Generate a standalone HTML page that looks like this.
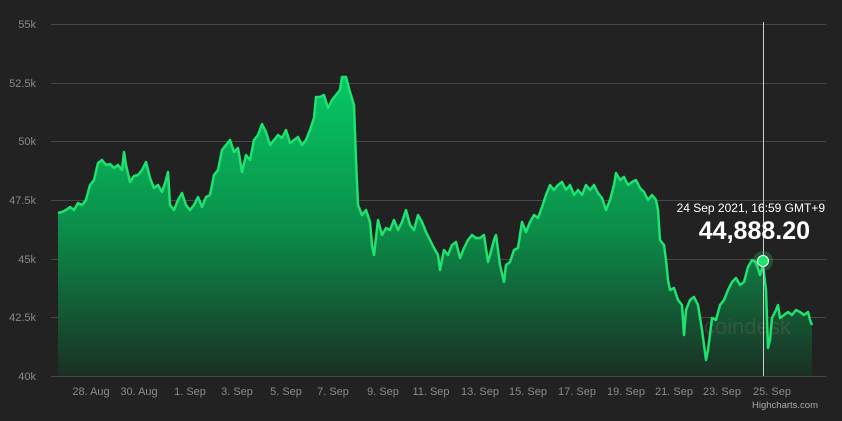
<!DOCTYPE html>
<html><head><meta charset="utf-8"><style>
html,body{margin:0;padding:0;background:#222222;}
svg{display:block;font-family:"Liberation Sans",Arial,sans-serif;}
</style></head><body>
<svg width="842" height="421" viewBox="0 0 842 421" xmlns="http://www.w3.org/2000/svg">
<defs>
<linearGradient id="g" gradientUnits="userSpaceOnUse" x1="0" y1="77" x2="0" y2="376">
<stop offset="0" stop-color="#05c965"/>
<stop offset="0.5" stop-color="#0b8f4a"/>
<stop offset="1" stop-color="#1b3024"/>
</linearGradient>
</defs>
<rect width="842" height="421" fill="#222222"/>
<g stroke="#474747" stroke-width="1">
<line x1="51" y1="24.5" x2="826" y2="24.5"/>
<line x1="51" y1="83.5" x2="826" y2="83.5"/>
<line x1="51" y1="141.5" x2="826" y2="141.5"/>
<line x1="51" y1="200.5" x2="826" y2="200.5"/>
<line x1="51" y1="259.5" x2="826" y2="259.5"/>
<line x1="51" y1="317.5" x2="826" y2="317.5"/>
<line x1="51" y1="376.5" x2="826" y2="376.5"/>
</g>
<g fill="#8a8a8a" font-size="11" text-anchor="end">
<text x="36" y="28">55k</text><text x="36" y="87">52.5k</text><text x="36" y="145">50k</text>
<text x="36" y="204">47.5k</text><text x="36" y="263">45k</text><text x="36" y="321">42.5k</text><text x="36" y="380">40k</text>
</g>
<g fill="#8a8a8a" font-size="11" text-anchor="middle">
<text x="91" y="395">28. Aug</text><text x="139" y="395">30. Aug</text><text x="190" y="395">1. Sep</text>
<text x="237" y="395">3. Sep</text><text x="286" y="395">5. Sep</text><text x="333" y="395">7. Sep</text>
<text x="383" y="395">9. Sep</text><text x="431" y="395">11. Sep</text><text x="480" y="395">13. Sep</text>
<text x="528" y="395">15. Sep</text><text x="577" y="395">17. Sep</text><text x="626" y="395">19. Sep</text>
<text x="674" y="395">21. Sep</text><text x="722" y="395">23. Sep</text><text x="772" y="395">25. Sep</text>
</g>
<text x="818" y="408" fill="#aaaaaa" font-size="9.5" text-anchor="end">Highcharts.com</text>
<path id="p" d="M58 213L62 212L66 210L70 207L74 210L78 203L82 205L86 200L90 185L94 180L98 163L102 160L106 165L110 164L114 168L118 165L122 170L124 152L126 165L130 182L134 176L138 175L142 170L146 162L150 178L154 188L158 185L162 192L166 180L168 172L170 205L174 210L178 200L182 193L186 205L190 210L194 205L198 197L202 207L206 197L210 195L214 175L218 170L222 150L226 145L230 140L234 152L238 148L242 172L246 155L250 160L254 140L258 135L262 124L266 132L270 145L274 140L278 135L282 138L286 130L290 143L294 140L298 137L302 145L306 140L310 130L314 118L316 97L320 97L324 95L328 108L332 100L336 95L340 90L342 77L346 77L350 92L354 105L356 160L358 205L362 215L366 210L370 222L372 245L374 255L378 220L382 235L386 228L390 230L394 220L398 230L402 222L406 210L410 225L414 230L418 215L422 222L426 232L430 240L434 248L438 255L440 270L444 250L448 255L452 245L456 242L460 258L464 248L468 240L472 235L476 238L480 238L484 235L488 262L490 255L494 240L496 235L500 265L504 282L506 265L510 262L514 250L518 248L522 222L526 232L530 222L534 215L538 218L542 207L546 195L550 185L554 190L558 185L562 182L566 190L570 185L574 195L578 190L582 195L586 185L590 190L594 185L598 193L602 198L606 210L610 200L614 185L616 173L620 180L624 177L628 185L632 182L636 180L640 188L644 192L648 200L652 195L656 200L658 210L660 240L664 245L666 260L668 280L670 290L674 288L678 300L682 305L684 335L686 310L690 300L694 297L698 305L702 330L706 360L708 350L712 318L716 320L720 305L724 300L728 290L732 282L736 278L740 285L744 282L748 267L752 260L756 262L760 275L763 265L766 290L768 348L770 340L772 318L776 310L778 305L780 318L784 315L788 312L792 315L796 310L800 312L804 315L808 312L810 320L812 325" fill="none"/>
<path d="M58 376L58 213L62 212L66 210L70 207L74 210L78 203L82 205L86 200L90 185L94 180L98 163L102 160L106 165L110 164L114 168L118 165L122 170L124 152L126 165L130 182L134 176L138 175L142 170L146 162L150 178L154 188L158 185L162 192L166 180L168 172L170 205L174 210L178 200L182 193L186 205L190 210L194 205L198 197L202 207L206 197L210 195L214 175L218 170L222 150L226 145L230 140L234 152L238 148L242 172L246 155L250 160L254 140L258 135L262 124L266 132L270 145L274 140L278 135L282 138L286 130L290 143L294 140L298 137L302 145L306 140L310 130L314 118L316 97L320 97L324 95L328 108L332 100L336 95L340 90L342 77L346 77L350 92L354 105L356 160L358 205L362 215L366 210L370 222L372 245L374 255L378 220L382 235L386 228L390 230L394 220L398 230L402 222L406 210L410 225L414 230L418 215L422 222L426 232L430 240L434 248L438 255L440 270L444 250L448 255L452 245L456 242L460 258L464 248L468 240L472 235L476 238L480 238L484 235L488 262L490 255L494 240L496 235L500 265L504 282L506 265L510 262L514 250L518 248L522 222L526 232L530 222L534 215L538 218L542 207L546 195L550 185L554 190L558 185L562 182L566 190L570 185L574 195L578 190L582 195L586 185L590 190L594 185L598 193L602 198L606 210L610 200L614 185L616 173L620 180L624 177L628 185L632 182L636 180L640 188L644 192L648 200L652 195L656 200L658 210L660 240L664 245L666 260L668 280L670 290L674 288L678 300L682 305L684 335L686 310L690 300L694 297L698 305L702 330L706 360L708 350L712 318L716 320L720 305L724 300L728 290L732 282L736 278L740 285L744 282L748 267L752 260L756 262L760 275L763 265L766 290L768 348L770 340L772 318L776 310L778 305L780 318L784 315L788 312L792 315L796 310L800 312L804 315L808 312L810 320L812 325L812 376Z" fill="url(#g)"/>
<text x="704" y="334" fill="#6a6a55" fill-opacity="0.35" font-size="22">coindesk</text>
<use href="#p" stroke="#1ee36f" stroke-width="2.5" stroke-linejoin="round"/>
<line x1="763.5" y1="22" x2="763.5" y2="376" stroke="#cccccc" stroke-width="1"/>
<circle cx="763" cy="261" r="10" fill="#1ee36f" fill-opacity="0.25"/>
<circle cx="763" cy="261" r="5.5" fill="#1ee36f" stroke="#ffffff" stroke-width="1"/>
<text x="825" y="212" fill="#ffffff" font-size="12" text-anchor="end">24 Sep 2021, 16:59 GMT+9</text>
<text x="810" y="239" fill="#ffffff" font-size="25" font-weight="bold" text-anchor="end">44,888.20</text>
</svg>
</body></html>
